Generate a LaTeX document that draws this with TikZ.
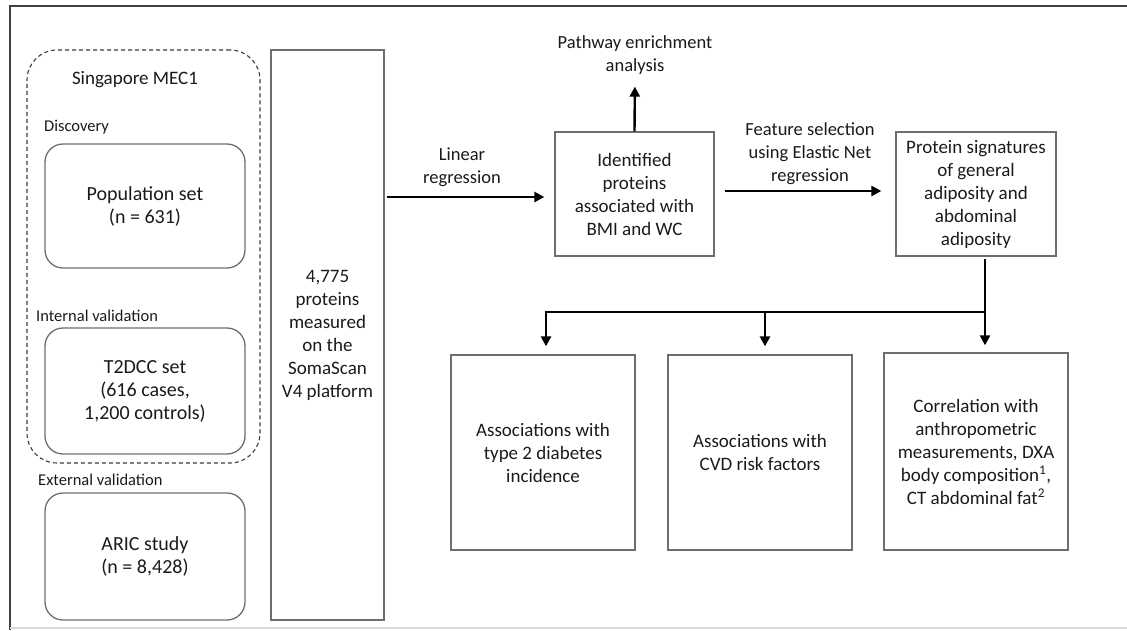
\documentclass[tikz,border=0pt]{standalone}
\usepackage{fontspec}
\setmainfont{Carlito}
\usetikzlibrary{arrows.meta}
\definecolor{boxgray}{HTML}{6E6E6E}
\definecolor{txt}{HTML}{1A1A1A}
\begin{document}
\begin{tikzpicture}[x=1pt,y=-1pt,
  every node/.style={text=txt, align=center, inner sep=0pt},
  main/.style={font=\fontsize{19}{23}\selectfont},
  big/.style={font=\fontsize{20}{23}\selectfont},
  small/.style={font=\fontsize{16.5}{19}\selectfont, anchor=west},
  boxr/.style={draw=boxgray, line width=1.3pt, rounded corners=18pt, big},
  boxs/.style={draw=boxgray, line width=1.3pt, main},
  dashbox/.style={draw=txt!85, line width=1.1pt, dash pattern=on 4pt off 3pt, rounded corners=30pt},
  arr/.style={draw=black, line width=2.4pt, -{Triangle[length=10pt,width=10pt]}},
  ln/.style={draw=black, line width=2.4pt},
  lab/.style={font=\fontsize{18.5}{23}\selectfont}
]
\useasboundingbox (0,0) rectangle (1127,630);
% outer frame
\coordinate (ftl) at (10,6);
\coordinate (ftr) at (1127,6);
\coordinate (fbl) at (10,630);
\coordinate (fbr) at (1127,628);
\draw[draw=black!75, line width=1.6pt] (ftr) -- (ftl) -- (fbl);
\draw[draw=black!15, line width=1.2pt] (10,628) -- (fbr);

% dashed group
\node[dashbox, minimum width=233, minimum height=413] (mec) at (143.5,256.5) {};
\node[font=\fontsize{19}{22}\selectfont] (mectitle) at (135,80) {Singapore MEC1};

\node[small] (disc) at (44,127) {Discovery};
\node[boxr, minimum width=200, minimum height=124] (pop) at (145,206) {Population set\\(n = 631)};

\node[small] (intv) at (36,316) {Internal validation};
\node[boxr, minimum width=200, minimum height=126] (t2d) at (145,391) {T2DCC set\\(616 cases,\\1,200 controls)};

\node[small] (extv) at (38,480) {External validation};
\node[boxr, minimum width=200, minimum height=127] (aric) at (145,556.5) {ARIC study\\(n = 8,428)};

% proteins measured
\node[boxs, minimum width=113, minimum height=570] (prot) at (327.5,335) {4,775\\proteins\\measured\\on the\\SomaScan\\V4 platform};

% identified proteins
\node[boxs, minimum width=159, minimum height=124] (ident) at (634.5,194) {Identified\\proteins\\associated with\\BMI and WC};

\node[lab] (path) at (635,55) {Pathway enrichment\\analysis};

% protein signatures
\node[boxs, minimum width=160, minimum height=124] (sig) at (976,194) {Protein signatures\\of general\\adiposity and\\abdominal\\adiposity};

% bottom boxes
\node[boxs, minimum width=184, minimum height=195] (b1) at (543,452.5) {Associations with\\type 2 diabetes\\incidence};
\node[boxs, minimum width=184, minimum height=195] (b2) at (760,452.5) {Associations with\\CVD risk factors};
\node[boxs, minimum width=184, minimum height=197] (b3) at (976,451.5) {Correlation with\\anthropometric\\measurements, DXA\\body composition\textsuperscript{1},\\CT abdominal fat\textsuperscript{2}};

% edge labels
\node[lab] (linreg) at (462,167) {Linear\\regression};
\node[lab] (feat) at (810,154) {Feature selection\\using Elastic Net\\regression};

% connectors
\draw[arr, shorten <=2pt, shorten >=10pt] (prot.east |- ident.west) ++(0,3) coordinate (pa) -- (pa -| ident.west);
\draw[arr, shorten >=12pt] (ident.north) -- (path.south);
\draw[arr, shorten <=10pt, shorten >=14pt] ([yshift=3pt]ident.east) -- ([yshift=3pt]sig.west);

\coordinate (j3) at (985,312);
\coordinate (j1) at (546,312);
\coordinate (j2) at (765,312);
\draw[ln, shorten <=2pt] (sig.south -| j3) -- (j3);
\draw[ln, line cap=butt] ([xshift=-1.2pt]j1) -- (j3);
\draw[arr, shorten >=8pt] ([yshift=-1.2pt]j1) -- (j1 |- b1.north);
\draw[arr, shorten >=8pt] (j2) -- (j2 |- b2.north);
\draw[arr, shorten >=7pt] (j3) -- (j3 |- b3.north);
\end{tikzpicture}
\end{document}
